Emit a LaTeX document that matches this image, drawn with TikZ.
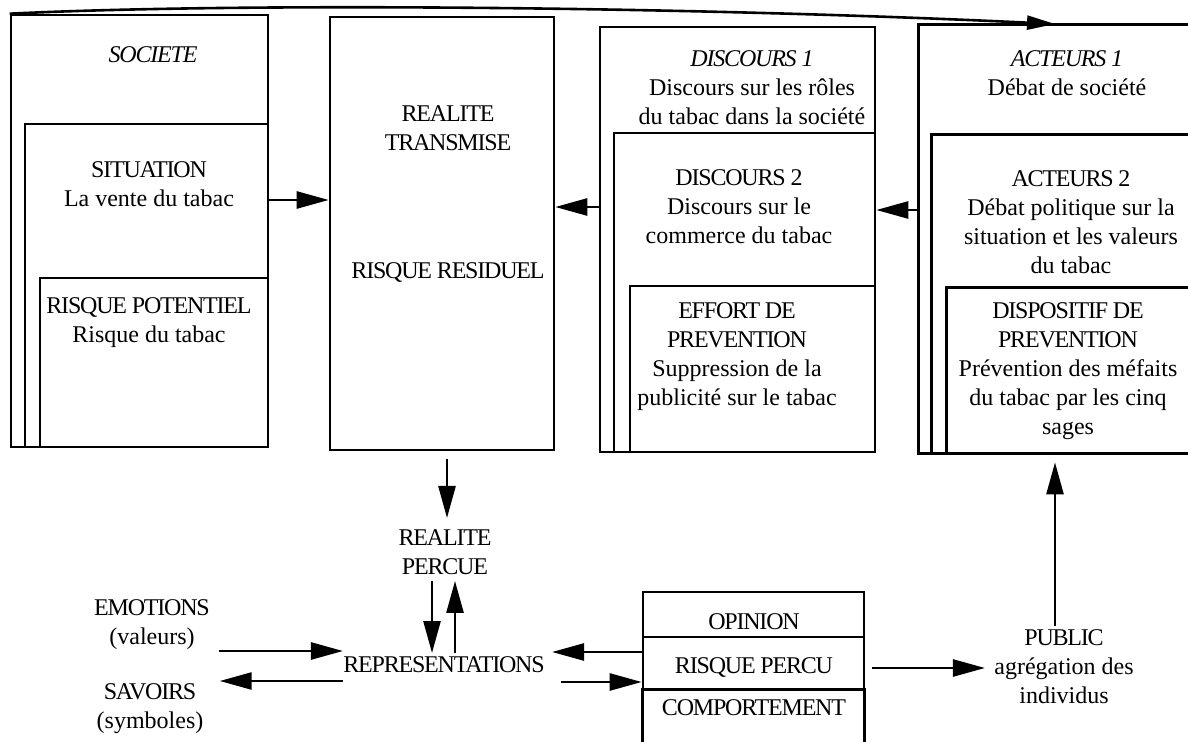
\documentclass[tikz,border=0pt]{standalone}
\usepackage{fontspec}
\setmainfont{Liberation Serif}
\newfontfamily\capfont[LetterSpace=-5]{Liberation Serif}
\usetikzlibrary{arrows.meta,fit,calc}
\newcommand{\C}[1]{{\capfont #1}}
\begin{document}
\begin{tikzpicture}[x=0.5pt,y=-0.5pt,
  every node/.style={font=\fontsize{12}{14.5}\selectfont, inner sep=0pt},
  box/.style={draw, line width=1.3pt, inner sep=0pt},
  region/.style={inner sep=0pt},
  lbl/.style={align=center},
  arr/.style={line width=1.3pt, -{Triangle[length=16pt,width=8.5pt]}},
  edgeline/.style={line width=1.3pt}]
\useasboundingbox (0,0) rectangle (1188,742);
% helper coordinates
\coordinate (h200) at (0,200);
\coordinate (h207) at (0,207);
\coordinate (h210) at (0,210);
\coordinate (h518) at (0,518);
\coordinate (h651) at (0,651);
\coordinate (h652) at (0,652);
\coordinate (h653) at (0,653);
\coordinate (h668) at (0,668);
\coordinate (h681) at (0,681);
\coordinate (h682) at (0,682);
\coordinate (v1055) at (1055,0);
\coordinate (v447) at (447,0);
\coordinate (topend) at (1055,24);
% left nested boxes
\node[box, fit={(11,15) (268,447)}] (soc) {};
\node[box, fit={(25,124) (268,447)}] (sit) {};
\node[box, fit={(40,278) (268,447)}] (pot) {};
% realite transmise
\node[box, fit={(330,17) (554,450)}] (real) {};
% discours
\node[box, fit={(600,27) (875,452)}] (disc1) {};
\node[box, fit={(614,133) (875,452)}] (disc2) {};
\node[box, fit={(630,286) (875,452)}] (eff) {};
% acteurs (open on the right)
\node[region, fit={(919,25) (1188,453)}] (act1) {};
\node[region, fit={(932,135) (1188,453)}] (act2) {};
\node[region, fit={(947,288) (1188,453)}] (disp) {};
\draw[edgeline] (act1.north east) -- (act1.north west) -- (act1.south west) -- (act1.south east);
\draw[edgeline] (act2.north east) -- (act2.north west) -- (act2.south west) -- (act2.south east);
\draw[edgeline] (disp.north east) -- (disp.north west) -- (disp.south west) -- (disp.south east);
% opinion box
\node[box, fit={(643,592) (864,637)}] (opin) {};
\node[box, fit={(643,637) (864,690)}] (rpc) {};
\node[region, fit={(643,690) (864,742)}] (comp) {};
\draw[edgeline] (comp.south west) -- (comp.north west) -- (comp.north east) -- (comp.south east);
% texts
\node[lbl] (tsoc) at (153,55) {\C{\itshape SOCIETE}};
\node[lbl] (tsit) at (149,184) {\C{SITUATION}\\La vente du tabac};
\node[lbl] (tpot) at (149,323) {\C{RISQUE POTENTIEL}\\Risque du tabac};
\node[lbl] (treal) at (448,128) {\C{REALITE}\\\C{TRANSMISE}};
\node[lbl] (tres) at (448,273) {\C{RISQUE RESIDUEL}};
\node[lbl] (td1) at (752,88) {\C{\itshape DISCOURS 1}\\Discours sur les rôles\\du tabac dans la société};
\node[lbl] (td2) at (739,207) {\C{DISCOURS 2}\\Discours sur le\\commerce du tabac};
\node[lbl] (teff) at (737,357) {\C{EFFORT DE}\\\C{PREVENTION}\\Suppression de la\\publicité sur le tabac};
\node[lbl] (ta1) at (1067,73) {\C{\itshape ACTEURS 1}\\Débat de société};
\node[lbl] (ta2) at (1071,222) {\C{ACTEURS 2}\\Débat politique sur la\\situation et les valeurs\\du tabac};
\node[lbl] (tdisp) at (1068,371) {\C{DISPOSITIF DE}\\\C{PREVENTION}\\Prévention des méfaits\\du tabac par les cinq\\sages};
\node[lbl] (rp) at (445,552) {\C{REALITE}\\\C{PERCUE}};
\node (repr) at (444,665) {\C{REPRESENTATIONS}};
\node[lbl] (emo) at (152,625) {\C{EMOTIONS}\\(valeurs)};
\node[lbl] (sav) at (150,709) {\C{SAVOIRS}\\(symboles)};
\node (topin) at (754,622) {\C{OPINION}};
\node (trpc) at (754,667) {\C{RISQUE PERCU}};
\node (tcomp) at (754,708) {\C{COMPORTEMENT}};
\node[lbl] (pub) at (1064,667) {\C{PUBLIC}\\agrégation des\\individus};
% connectors
\draw[arr] (sit.east |- h200) -- (real.west |- h200);
\draw[arr] (disc1.west |- h207) -- (real.east |- h207);
\draw[arr] (act1.west |- h210) -- (disc1.east |- h210);
\draw[arr, -{Triangle[length=14pt,width=7pt]}] (soc.north west) .. controls (250,2) and (700,7) .. (topend);
\draw[arr, shorten <=4pt] (v447 |- real.south) -- (v447 |- h518);
\coordinate (rpL) at ([xshift=-6.5pt]rp.south);
\coordinate (rpR) at ([xshift=5pt]rp.south);
\draw[arr, shorten <=3pt] (rpL) -- (rpL |- h653);
\draw[arr, shorten >=3pt] (rpR |- h653) -- (rpR);
\draw[arr, shorten <=4.5pt] (emo.east |- h651) -- (repr.west |- h651);
\draw[arr, shorten >=8pt] (repr.west |- h681) -- (sav.east |- h681);
\draw[arr, shorten >=3.5pt] (rpc.west |- h652) -- (repr.east |- h652);
\draw[arr, shorten <=8pt] (repr.east |- h682) -- (rpc.west |- h682);
\draw[arr, shorten <=3.5pt, shorten >=4.5pt] (rpc.east |- h668) -- (pub.west |- h668);
\draw[arr, shorten <=2pt, shorten >=4.5pt] (v1055 |- pub.north) -- (v1055 |- disp.south);
\end{tikzpicture}
\end{document}
